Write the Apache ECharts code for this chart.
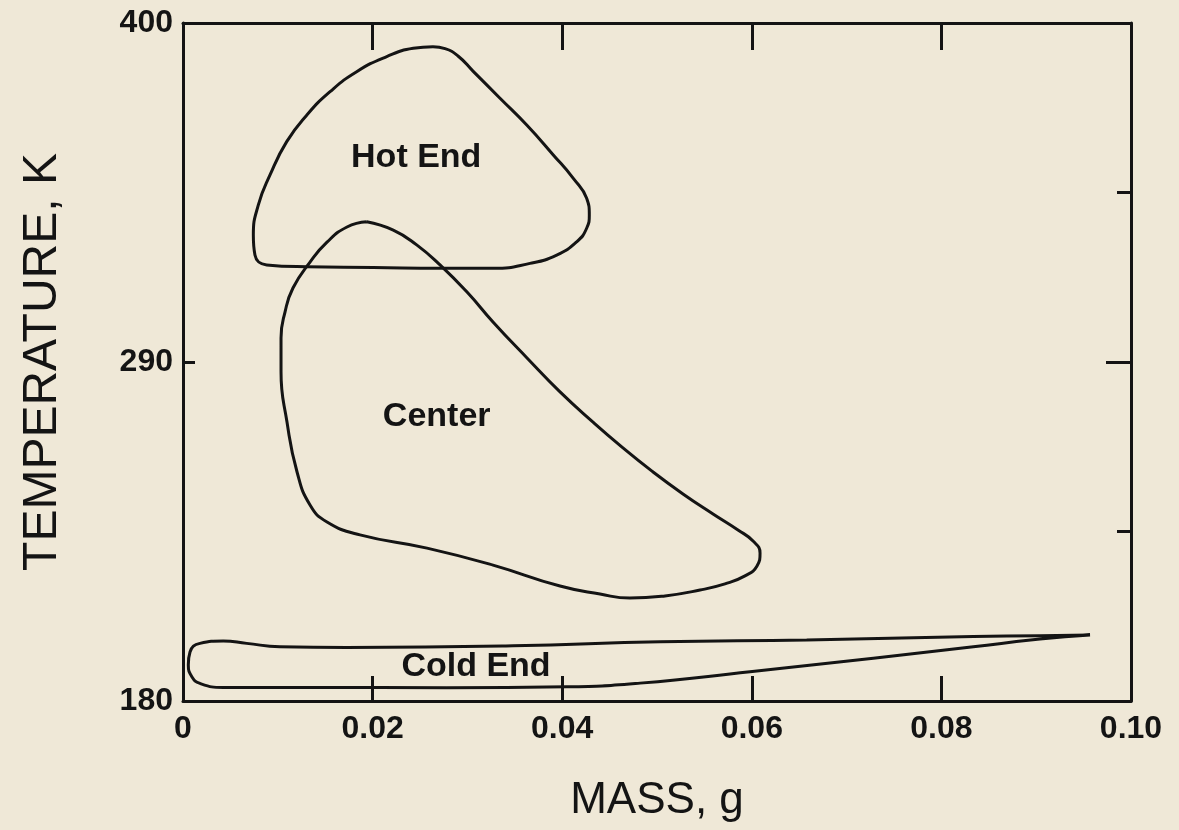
<!DOCTYPE html>
<html>
<head>
<meta charset="utf-8">
<script src="https://cdn.jsdelivr.net/npm/echarts@6/dist/echarts.min.js"></script>
<style>
html,body{margin:0;padding:0;background:#efe8d7;}
#chart{width:1179px;height:830px;}
</style>
</head>
<body>
<div id="chart"></div>
<script>
// Axis settings
const xTicks = [0, 0.02, 0.04, 0.06, 0.08, 0.10];
const yLabels = [180, 290, 400];
const yMinorTicks = [180, 235, 290, 345, 400];

// Hot End loop [mass g, temperature K]
const hotEnd = [
  [0.02637,392.3],[0.02764,391.7],[0.02901,389.3],[0.03059,384.4],[0.03344,375.6],
  [0.03626,366.9],[0.03906,357.2],[0.04117,349.6],[0.04258,343.1],[0.04286,337.7],
  [0.04258,333.4],[0.04153,329.0],[0.03942,324.7],[0.03660,322.0],[0.03273,320.4],
  [0.02711,320.4],[0.02007,320.7],[0.01305,320.9],[0.00883,321.5],[0.00759,324.7],
  [0.00742,331.2],[0.00794,340.9],[0.00918,350.7],[0.01094,361.5],[0.01305,370.1],
  [0.01551,377.7],[0.01832,384.2],[0.02149,389.1],[0.02429,391.8],[0.02637,392.3]
];

// Center loop
const center = [
  [0.01938,335.5],[0.02218,332.8],[0.02465,328.0],[0.02711,321.5],[0.02996,312.7],
  [0.03270,303.0],[0.03629,291.3],[0.03977,280.3],[0.04325,270.5],[0.04631,262.4],
  [0.04947,254.6],[0.05274,247.2],[0.05591,240.7],[0.05854,235.5],[0.06013,231.9],
  [0.06087,228.0],[0.06055,223.8],[0.05928,220.6],[0.05717,218.0],[0.05454,216.0],
  [0.05084,214.1],[0.04715,213.4],[0.04399,214.7],[0.03977,217.3],[0.03270,224.1],
  [0.02574,229.6],[0.01867,233.9],[0.01519,238.1],[0.01340,243.6],[0.01203,254.3],
  [0.01097,270.5],[0.01034,286.8],[0.01034,297.8],[0.01076,306.2],[0.01160,314.0],
  [0.01340,322.4],[0.01519,328.9],[0.01730,333.8],[0.01938,335.5]
];

// Cold End loop
const coldEnd = [
  [0.09568,201.4],[0.09040,201.2],[0.08337,200.9],[0.06579,199.8],[0.05032,199.2],
  [0.03481,197.9],[0.01727,197.4],[0.01023,197.6],[0.00672,198.7],[0.00425,199.5],
  [0.00179,198.7],[0.00074,195.9],[0.00056,191.7],[0.00095,187.8],[0.00179,185.7],
  [0.00425,184.4],[0.01374,184.4],[0.02782,184.3],[0.04048,184.6],[0.04821,185.8],
  [0.05981,189.5],[0.07282,193.9],[0.08337,197.6],[0.09040,200.1],[0.09568,201.4]
];

// Curve labels
const curveLabels = [
  {name: 'Hot End', value: [0.02460, 356.2]},
  {name: 'Center', value: [0.02676, 272.2]},
  {name: 'Cold End', value: [0.03091, 191.1]}
];

const ink = '#141414';
const font = 'Liberation Sans, Arial, Helvetica, sans-serif';

const chart = echarts.init(document.getElementById('chart'));
const lineStyleAxis = {color: ink, width: 3};
const gridBox = {left: 183, right: 48, top: 23, bottom: 129, containLabel: false};

chart.setOption({
  backgroundColor: '#efe8d7',
  animation: false,
  grid: [Object.assign({}, gridBox), Object.assign({}, gridBox)],
  xAxis: [
    {
      type: 'value', gridIndex: 0, position: 'bottom', min: 0, max: 0.1, interval: 0.02,
      axisLine: {show: true, onZero: false, lineStyle: lineStyleAxis},
      axisTick: {show: true, inside: true, length: 25, lineStyle: lineStyleAxis},
      splitLine: {show: false},
      axisLabel: {
        show: true, margin: 12, color: ink, fontFamily: font, fontSize: 32, fontWeight: 'bold',
        formatter: v => (v === 0 ? '0' : v.toFixed(2))
      },
      name: 'MASS, g', nameLocation: 'middle', nameGap: 78,
      nameTextStyle: {color: ink, fontFamily: font, fontSize: 44}
    },
    {
      type: 'value', gridIndex: 0, position: 'top', min: 0, max: 0.1, interval: 0.02,
      axisLine: {show: true, onZero: false, lineStyle: lineStyleAxis},
      axisTick: {show: true, inside: true, length: 27, lineStyle: lineStyleAxis},
      splitLine: {show: false},
      axisLabel: {show: false}
    },
    {
      type: 'value', gridIndex: 1, position: 'bottom', min: 0, max: 0.1, show: false
    }
  ],
  yAxis: [
    {
      type: 'value', gridIndex: 0, position: 'left', min: 180, max: 400, interval: 110,
      axisLine: {show: true, onZero: false, lineStyle: lineStyleAxis},
      axisTick: {show: true, inside: true, length: 12, lineStyle: lineStyleAxis},
      splitLine: {show: false},
      axisLabel: {show: true, margin: 10, color: ink, fontFamily: font, fontSize: 32, fontWeight: 'bold'},
      name: 'TEMPERATURE, K', nameLocation: 'middle', nameGap: 116, nameRotate: 90,
      nameTextStyle: {color: ink, fontFamily: font, fontSize: 48}
    },
    {
      type: 'value', gridIndex: 0, position: 'right', min: 180, max: 400, interval: 55,
      axisLine: {show: true, onZero: false, lineStyle: lineStyleAxis},
      axisTick: {show: true, inside: true, length: 14, lineStyle: lineStyleAxis},
      splitLine: {show: false},
      axisLabel: {show: false}
    },
    {
      type: 'value', gridIndex: 1, position: 'right', min: 180, max: 400, interval: 110,
      axisLine: {show: false, onZero: false},
      axisTick: {show: true, inside: true, length: 25, lineStyle: lineStyleAxis},
      splitLine: {show: false},
      axisLabel: {show: false}
    }
  ],
  series: [
    {type: 'line', name: 'Hot End', data: hotEnd, smooth: 0.5, showSymbol: false,
     lineStyle: {color: ink, width: 3}, clip: false},
    {type: 'line', name: 'Center', data: center, smooth: 0.5, showSymbol: false,
     lineStyle: {color: ink, width: 3}, clip: false},
    {type: 'line', name: 'Cold End', data: coldEnd, smooth: 0.5, showSymbol: false,
     lineStyle: {color: ink, width: 3}, clip: false},
    {type: 'scatter', data: curveLabels, symbolSize: 0, silent: true,
     itemStyle: {opacity: 1, color: 'rgba(0,0,0,0)'},
     label: {show: true, position: 'inside', formatter: p => p.name,
       color: ink, fontFamily: font, fontSize: 34, fontWeight: 'bold'}}
  ]
});
</script>
</body>
</html>
